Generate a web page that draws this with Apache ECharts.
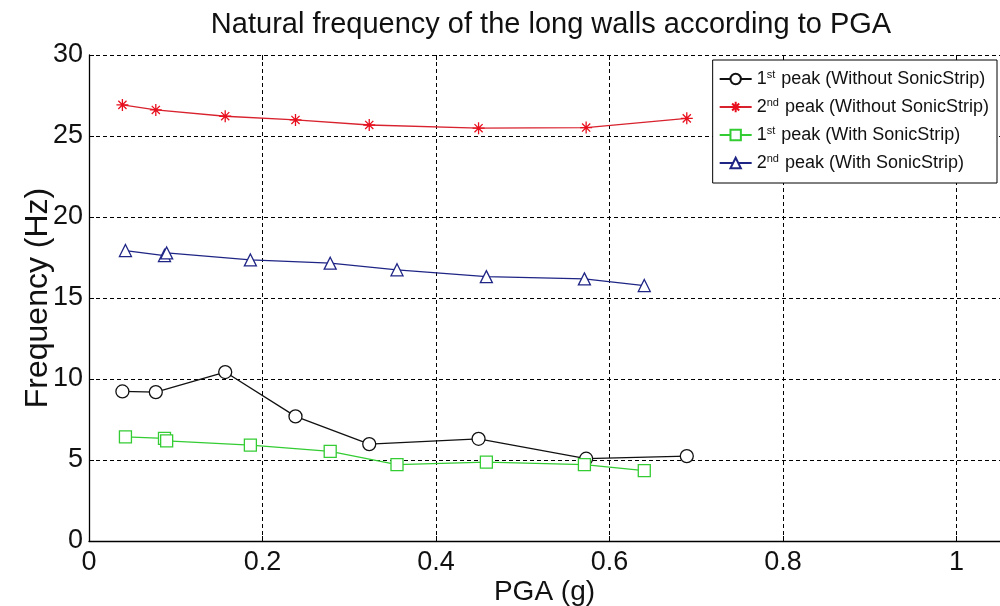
<!DOCTYPE html>
<html>
<head>
<meta charset="utf-8">
<script src="https://cdn.jsdelivr.net/npm/echarts@6/dist/echarts.min.js"></script>
<style>
  html, body { margin: 0; padding: 0; background: #fff; }
  #chart { width: 1000px; height: 606px; }
</style>
</head>
<body>
<div id="chart"></div>
<script>
// values
const pgaWithout = [0.0385, 0.077, 0.157, 0.238, 0.323, 0.449, 0.573, 0.689]
const peak1Without = [9.23, 9.19, 10.43, 7.69, 5.98, 6.31, 5.08, 5.24]
const peak2Without = [26.92, 26.61, 26.22, 25.99, 25.68, 25.48, 25.52, 26.09]

const pgaWith = [0.042, 0.087, 0.0895, 0.186, 0.278, 0.355, 0.458, 0.571, 0.640]
const peak1With = [6.43, 6.33, 6.18, 5.92, 5.53, 4.71, 4.87, 4.71, 4.34]
const peak2With = [17.93, 17.62, 17.78, 17.35, 17.15, 16.74, 16.32, 16.18, 15.77]

const xTicks = [0, 0.2, 0.4, 0.6, 0.8, 1]
const yTicks = [0, 5, 10, 15, 20, 25, 30]

const FONT = 'Liberation Sans, Arial, sans-serif'
const asterisk = 'path://M5,0L5,10M0,5L10,5M1.6,1.6L8.4,8.4M8.4,1.6L1.6,8.4'

const pair = (xs, ys) => xs.map((x, i) => [x, ys[i]])

const chart = echarts.init(document.getElementById('chart'))

const gridLine = { show: true, lineStyle: { color: '#000', type: [4, 3], width: 1 } }

function lineSeries(name, data, color, symbol, size, markerColor) {
  return {
    name,
    type: 'line',
    data,
    symbol,
    symbolSize: size,
    lineStyle: { color, width: 1.3 },
    itemStyle: { color: '#fff', borderColor: markerColor || color, borderWidth: 1.3 },
    emphasis: { disabled: true },
    z: 3,
  }
}

const names = [
  '1st peak (Without SonicStrip)',
  '2nd peak (Without SonicStrip)',
  '1st peak (With SonicStrip)',
  '2nd peak (With SonicStrip)',
]

chart.setOption({
  animation: false,
  title: {
    text: 'Natural frequency of the long walls according to PGA',
    left: 546,
    textAlign: 'center',
    top: 5,
    textStyle: { fontFamily: FONT, fontSize: 29, fontWeight: 'normal', color: '#111' },
  },
  grid: { left: 89, right: 0, top: 55, bottom: 65, outerBoundsMode: 'none', containLabel: false },
  legend: {
    data: names,
    orient: 'vertical',
    right: 3,
    top: 60,
    itemWidth: 32,
    itemHeight: 13,
    itemGap: 8,
    padding: [9, 8, 10, 6],
    backgroundColor: '#fff',
    borderColor: '#000',
    borderWidth: 1,
    formatter: (n) => {
      const num = n.slice(0, 1)
      const sup = n.slice(1, 3)
      return '{n|' + num + '}{s|' + sup + '}{n|' + n.slice(3) + '}'
    },
    textStyle: {
      fontFamily: FONT,
      fontSize: 18,
      color: '#111',
      rich: {
        n: { fontFamily: FONT, fontSize: 18, color: '#111', lineHeight: 20 },
        s: { fontFamily: FONT, fontSize: 11, color: '#111', lineHeight: 20, padding: [0, 1, 9, 0] },
      },
    },
  },
  xAxis: [
    {
      type: 'value',
      min: 0,
      max: 1.05,
      interval: 0.2,
      name: 'PGA (g)',
      nameLocation: 'middle',
      nameGap: 37,
      nameMoveOverlap: false,
      nameTextStyle: { fontFamily: FONT, fontSize: 28, color: '#111' },
      axisLine: { show: true, lineStyle: { color: '#000', width: 1.3 } },
      axisTick: { show: true, inside: true, length: 5, lineStyle: { color: '#000' } },
      axisLabel: {
        margin: 8,
        fontFamily: FONT,
        fontSize: 27,
        color: '#111',
        formatter: (v) => {
          const t = xTicks.find((k) => Math.abs(k - v) < 1e-6)
          return t === undefined ? '' : String(t)
        },
      },
      splitLine: gridLine,
    },
    {
      type: 'value',
      position: 'top',
      min: 0,
      max: 1.05,
      interval: 0.2,
      axisLine: { show: false },
      axisTick: { show: true, inside: true, length: 5, lineStyle: { color: '#000' } },
      axisLabel: { show: false },
      splitLine: { show: false },
    },
  ],
  yAxis: {
    type: 'value',
    min: 0,
    max: 30,
    interval: 5,
    name: 'Frequency (Hz)',
    nameLocation: 'middle',
    nameGap: 35,
    nameMoveOverlap: false,
    nameTextStyle: { fontFamily: FONT, fontSize: 32, color: '#111' },
    axisLine: { show: true, lineStyle: { color: '#000', width: 1.3 } },
    axisTick: { show: true, inside: true, length: 5, lineStyle: { color: '#000' } },
    axisLabel: {
      margin: 6,
      fontFamily: FONT,
      fontSize: 27,
      color: '#111',
      formatter: (v) => (yTicks.includes(v) ? String(v) : ''),
    },
    splitLine: gridLine,
  },
  series: [
    lineSeries(names[0], pair(pgaWithout, peak1Without), '#111', 'circle', 13),
    lineSeries(names[1], pair(pgaWithout, peak2Without), '#d8222e', asterisk, 12, '#e8101e'),
    lineSeries(names[2], pair(pgaWith, peak1With), '#33cc33', 'rect', 12),
    lineSeries(names[3], pair(pgaWith, peak2With), '#1f2585', 'triangle', 12),
  ],
})
</script>
</body>
</html>
